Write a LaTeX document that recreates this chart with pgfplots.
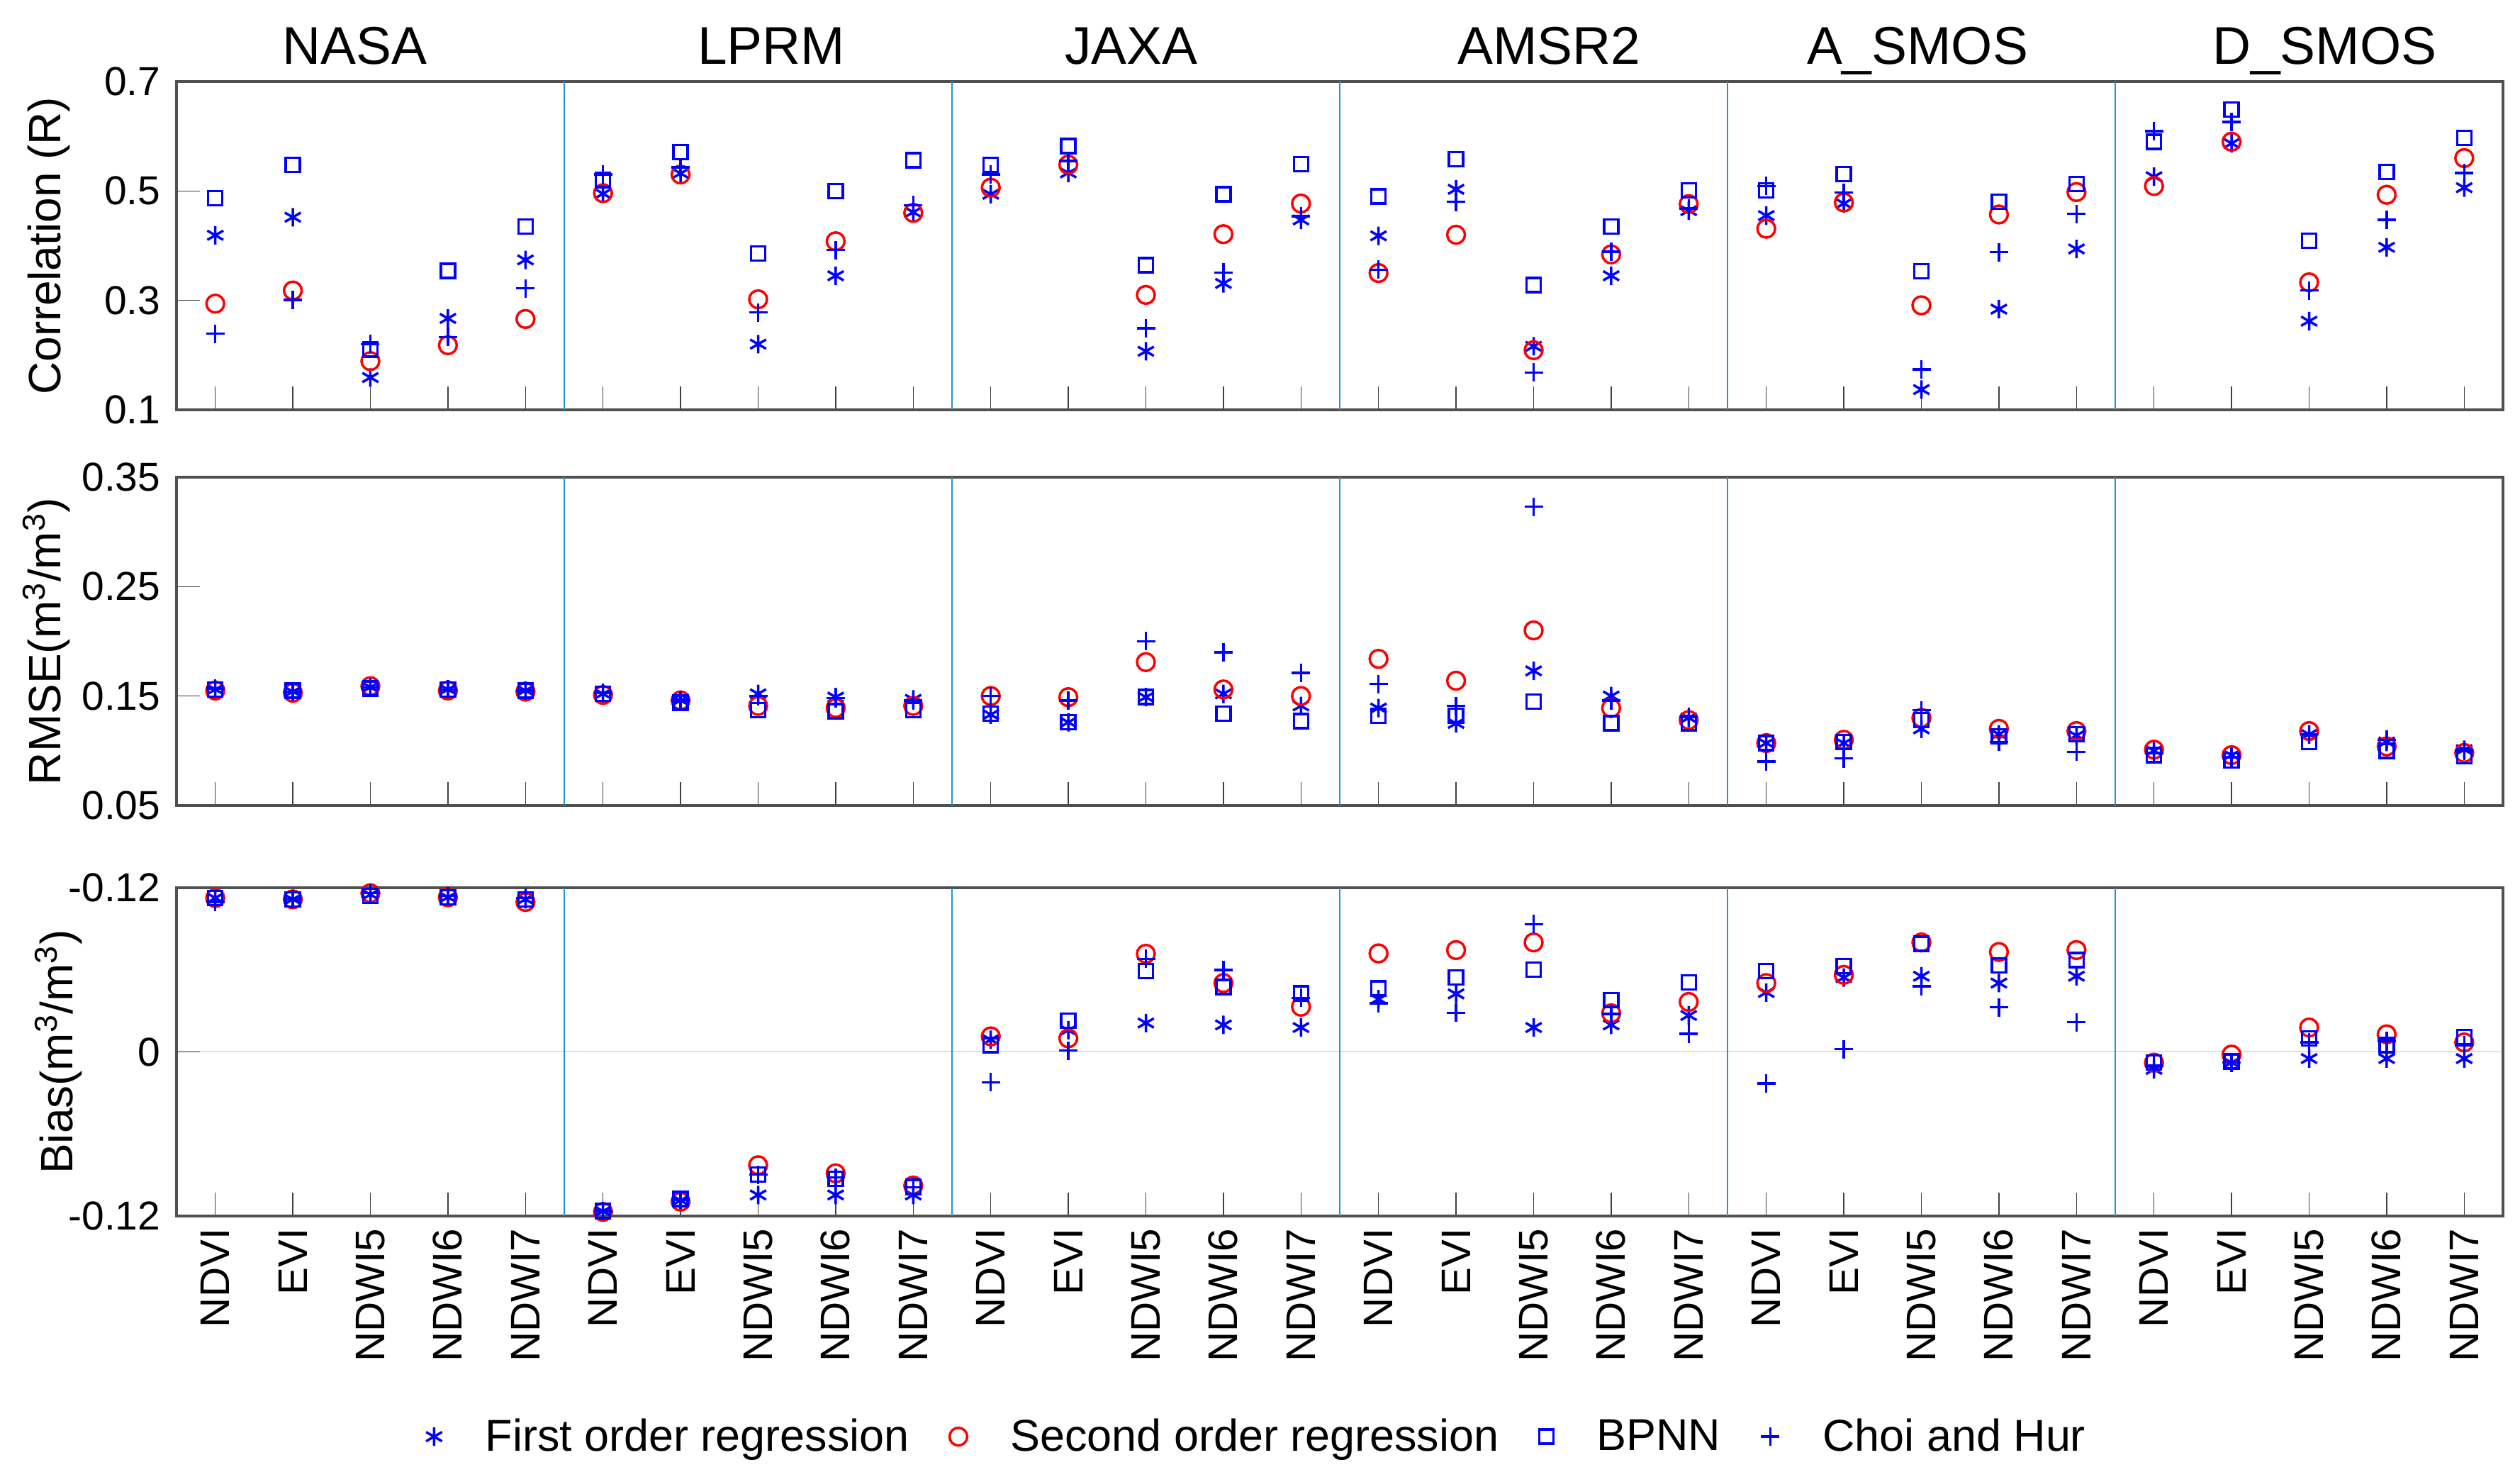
\documentclass[border=0pt]{standalone}
\usepackage{fontspec}
\setmainfont{Liberation Sans}
\usepackage{pgfplots}
\usepackage{pgfplotstable}
\pgfplotsset{compat=1.18}
\definecolor{sepc}{RGB}{30,150,210}
\definecolor{axgray}{RGB}{80,80,80}

% columns: first order (*), second order (o), BPNN (square), Choi and Hur (+)
\pgfplotstableread{
x first second bpnn choi
1 0.419 0.294 0.487 0.239
2 0.452 0.318 0.548 0.301
3 0.159 0.189 0.210 0.220
4 0.267 0.218 0.354 0.233
5 0.374 0.266 0.435 0.322
6 0.495 0.496 0.520 0.530
7 0.532 0.530 0.571 0.543
8 0.220 0.302 0.386 0.278
9 0.345 0.408 0.500 0.392
10 0.461 0.460 0.556 0.474
11 0.494 0.506 0.548 0.530
12 0.533 0.548 0.582 0.555
13 0.207 0.310 0.364 0.249
14 0.331 0.421 0.494 0.351
15 0.447 0.477 0.549 0.454
16 0.418 0.350 0.490 0.356
17 0.503 0.420 0.558 0.480
18 0.216 0.209 0.328 0.168
19 0.345 0.384 0.435 0.389
20 0.464 0.476 0.501 0.468
21 0.455 0.431 0.501 0.509
22 0.477 0.479 0.531 0.497
23 0.137 0.291 0.353 0.174
24 0.284 0.457 0.480 0.388
25 0.394 0.498 0.513 0.458
26 0.526 0.509 0.590 0.609
27 0.587 0.590 0.649 0.626
28 0.262 0.333 0.409 0.318
29 0.397 0.493 0.535 0.447
30 0.506 0.560 0.597 0.533
}\Rdata

\pgfplotstableread{
x first second bpnn choi
1 0.156 0.155 0.156 0.157
2 0.154 0.153 0.155 0.154
3 0.158 0.159 0.157 0.158
4 0.156 0.155 0.156 0.156
5 0.155 0.154 0.155 0.155
6 0.152 0.151 0.152 0.153
7 0.146 0.146 0.144 0.146
8 0.152 0.141 0.137 0.150
9 0.149 0.139 0.136 0.148
10 0.147 0.141 0.137 0.146
11 0.133 0.150 0.134 0.150
12 0.126 0.149 0.126 0.146
13 0.149 0.181 0.149 0.200
14 0.152 0.156 0.134 0.190
15 0.141 0.150 0.127 0.171
16 0.139 0.184 0.132 0.161
17 0.125 0.164 0.132 0.141
18 0.173 0.210 0.145 0.323
19 0.150 0.139 0.125 0.146
20 0.130 0.128 0.125 0.131
21 0.107 0.107 0.107 0.090
22 0.107 0.110 0.108 0.093
23 0.120 0.130 0.128 0.137
24 0.115 0.120 0.113 0.108
25 0.114 0.118 0.115 0.099
26 0.100 0.101 0.096 0.098
27 0.096 0.096 0.091 0.094
28 0.115 0.118 0.108 0.115
29 0.108 0.104 0.100 0.110
30 0.101 0.098 0.095 0.100
}\RMSEdata

\pgfplotstableread{
x first second bpnn choi
1 0.1125 0.1125 0.1125 0.1096
2 0.1115 0.1115 0.1115 0.1115
3 0.1150 0.1160 0.1140 0.1160
4 0.1130 0.1130 0.1130 0.1140
5 0.1115 0.1096 0.1115 0.1125
6 -0.1165 -0.1170 -0.1165 -0.1165
7 -0.1086 -0.1095 -0.1076 -0.1080
8 -0.1046 -0.0829 -0.0898 -0.0898
9 -0.1046 -0.0888 -0.0928 -0.0918
10 -0.1046 -0.0977 -0.0987 -0.0990
11 0.0089 0.0113 0.0049 -0.0223
12 0.0158 0.0099 0.0227 0.0010
13 0.0211 0.0717 0.0592 0.0680
14 0.0197 0.0503 0.0474 0.0598
15 0.0178 0.0330 0.0428 0.0395
16 0.0385 0.0720 0.0464 0.0355
17 0.0424 0.0744 0.0543 0.0286
18 0.0178 0.0800 0.0602 0.0934
19 0.0197 0.0282 0.0379 0.0276
20 0.0266 0.0365 0.0509 0.0132
21 0.0434 0.0503 0.0592 -0.0231
22 0.0543 0.0563 0.0626 0.0020
23 0.0553 0.0800 0.0790 0.0480
24 0.0503 0.0730 0.0632 0.0326
25 0.0553 0.0744 0.0670 0.0217
26 -0.0128 -0.0079 -0.0079 -0.0100
27 -0.0079 -0.0020 -0.0069 -0.0079
28 -0.0049 0.0178 0.0099 0.0069
29 -0.0049 0.0128 0.0049 0.0079
30 -0.0049 0.0069 0.0109 0.0049
}\Biasdata

\pgfplotsset{
  panel/.style={
    scale only axis, width=328.2mm, height=46.3mm,
    xmin=0.5, xmax=30.5, xtick={1,...,30}, xticklabels={},
    xtick pos=left, ytick pos=left,
    major tick length=3.3mm,
    tick style={black!75, line width=0.15mm},
    axis line style={axgray, line width=0.35mm},
    extra x ticks={5.5,10.5,15.5,20.5,25.5},
    extra x tick labels={},
    extra x tick style={grid=major, major grid style={sepc, line width=0.25mm}, major tick length=0pt},
    yticklabel style={font=\fontsize{16.2}{18}\selectfont, inner sep=0pt, inner xsep=2.2mm},
    ylabel style={font=\fontsize{18.2}{21}\selectfont, anchor=base},
    clip=false,
  },
  s1/.style={only marks, mark=asterisk, blue, mark size=1.3mm, mark options={line width=0.35mm}},
  s2/.style={only marks, mark=o, red, mark size=1.25mm, mark options={line width=0.35mm}},
  s3/.style={only marks, mark=square, blue, mark size=1mm, mark options={line width=0.35mm}},
  s4/.style={only marks, mark=+, blue, mark size=1.3mm, mark options={line width=0.35mm}},
}
\newcommand{\ttl}{\fontsize{21.3}{24}\selectfont}

\begin{document}
\begin{tikzpicture}
\path[use as bounding box] (0,0) rectangle (355.5mm,207.6mm);

% Correlation
\begin{axis}[panel, at={(24.9mm,196.1mm)}, anchor=north west,
    ymin=0.1, ymax=0.7, ytick={0.1,0.3,0.5,0.7}, yticklabels={0.1,0.3,0.5,0.7},
    ylabel={Correlation (R)}, ylabel style={at={(rel axis cs:-0.0497,0.5)}}]
  \addplot[s1] table[x=x,y=first]{\Rdata};
  \addplot[s2] table[x=x,y=second]{\Rdata};
  \addplot[s3] table[x=x,y=bpnn]{\Rdata};
  \addplot[s4] table[x=x,y=choi]{\Rdata};
  \node[font=\ttl, anchor=base, yshift=2.4mm] at (axis cs:2.80,0.7) {NASA};
  \node[font=\ttl, anchor=base, yshift=2.4mm] at (axis cs:8.17,0.7) {LPRM};
  \node[font=\ttl, anchor=base, yshift=2.4mm] at (axis cs:12.81,0.7) {JAXA};
  \node[font=\ttl, anchor=base, yshift=2.4mm] at (axis cs:18.20,0.7) {AMSR2};
  \node[font=\ttl, anchor=base, yshift=2.4mm] at (axis cs:22.95,0.7) {A\_SMOS};
  \node[font=\ttl, anchor=base, yshift=2.4mm] at (axis cs:28.20,0.7) {D\_SMOS};
\end{axis}

% RMSE
\begin{axis}[panel, at={(24.9mm,140.3mm)}, anchor=north west,
    ymin=0.05, ymax=0.35, ytick={0.05,0.15,0.25,0.35}, yticklabels={0.05,0.15,0.25,0.35},
    ylabel={RMSE(m\textsuperscript{3}/m\textsuperscript{3})}, ylabel style={at={(rel axis cs:-0.0497,0.5)}}]
  \addplot[s1] table[x=x,y=first]{\RMSEdata};
  \addplot[s2] table[x=x,y=second]{\RMSEdata};
  \addplot[s3] table[x=x,y=bpnn]{\RMSEdata};
  \addplot[s4] table[x=x,y=choi]{\RMSEdata};
\end{axis}

% Bias
\begin{axis}[panel, at={(24.9mm,82.4mm)}, anchor=north west,
    ymin=-0.12, ymax=0.12, ytick={-0.12,0,0.12}, yticklabels={-0.12,0,-0.12},
    ymajorgrids=true, major grid style={black!12, line width=0.2mm},
    ylabel={Bias(m\textsuperscript{3}/m\textsuperscript{3})}, ylabel style={at={(rel axis cs:-0.0445,0.5)}},
    xticklabels={NDVI,EVI,NDWI5,NDWI6,NDWI7,NDVI,EVI,NDWI5,NDWI6,NDWI7,NDVI,EVI,NDWI5,NDWI6,NDWI7,
                 NDVI,EVI,NDWI5,NDWI6,NDWI7,NDVI,EVI,NDWI5,NDWI6,NDWI7,NDVI,EVI,NDWI5,NDWI6,NDWI7},
    xticklabel style={rotate=90, anchor=east, font=\fontsize{16.6}{19}\selectfont, inner sep=0pt, inner xsep=1.7mm},
    legend columns=4,
    legend style={at={(0.465,-0.672)}, anchor=center, draw=none, fill=none,
      font=\fontsize{17.9}{20}\selectfont,
      /tikz/every odd column/.append style={column sep=5.4mm},
      /tikz/every even column/.append style={column sep=5mm}}]
  \addplot[s1] table[x=x,y=first]{\Biasdata};
  \addlegendentry{First order regression}
  \addplot[s2] table[x=x,y=second]{\Biasdata};
  \addlegendentry{Second order regression}
  \addplot[s3] table[x=x,y=bpnn]{\Biasdata};
  \addlegendentry{BPNN}
  \addplot[s4] table[x=x,y=choi]{\Biasdata};
  \addlegendentry{Choi and Hur}
\end{axis}
\end{tikzpicture}
\end{document}
